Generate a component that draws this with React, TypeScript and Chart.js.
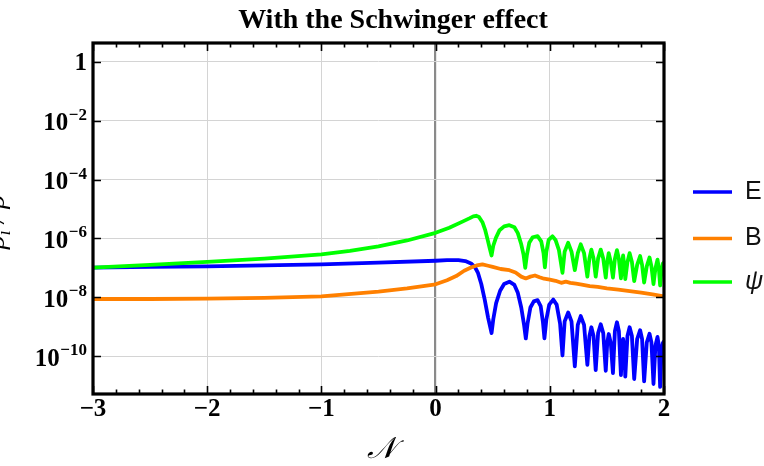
import React, { useEffect, useRef } from "react";
import { Chart, registerables } from "chart.js";

Chart.register(...registerables);

const TITLE = "With the Schwinger effect";
const X_LABEL = "\u{1D4A9}";
const X_TICKS = [-3, -2, -1, 0, 1, 2];
const Y_TICK_EXPONENTS = [0, -2, -4, -6, -8, -10];
const SERIES_NAMES = ["E", "B", "\u03C8"];
const SERIES_COLORS = ["#0000ff", "#ff8000", "#00ff00"];

// E (blue): e-folds N and log10(rho_E / rho)
const eN = [-3, -2.5, -2, -1.5, -1, -0.5, 0, 0.1, 0.2, 0.26, 0.31, 0.345, 0.37, 0.4, 0.43, 0.46, 0.49, 0.505, 0.53, 0.565, 0.6, 0.646, 0.69, 0.72, 0.75, 0.775, 0.79, 0.805, 0.83, 0.86, 0.893, 0.92, 0.94, 0.953, 0.97, 0.995, 1.03, 1.06, 1.09, 1.111, 1.13, 1.161, 1.19, 1.219, 1.245, 1.271, 1.3, 1.329, 1.347, 1.364, 1.383, 1.402, 1.423, 1.446, 1.468, 1.49, 1.503, 1.516, 1.534, 1.553, 1.57, 1.588, 1.605, 1.623, 1.632, 1.642, 1.651, 1.661, 1.68, 1.699, 1.719, 1.739, 1.765, 1.791, 1.808, 1.826, 1.849, 1.873, 1.89, 1.908, 1.925, 1.943, 1.955, 1.966, 1.978, 1.99, 2.0];
const eLog = [-6.99, -6.97, -6.95, -6.92, -6.88, -6.82, -6.76, -6.74, -6.74, -6.77, -6.85, -6.98, -7.16, -7.55, -8.08, -8.7, -9.22, -8.75, -8.2, -7.78, -7.55, -7.47, -7.58, -7.85, -8.35, -8.95, -9.4, -8.9, -8.35, -8.14, -8.1, -8.3, -8.85, -9.4, -8.75, -8.25, -8.08, -8.25, -8.9, -9.98, -8.82, -8.52, -8.82, -10.35, -8.94, -8.64, -8.94, -10.3, -9.32, -9.02, -9.32, -10.48, -9.22, -8.92, -9.22, -10.5, -9.55, -9.25, -9.55, -10.58, -9.15, -8.85, -9.15, -10.65, -9.72, -9.42, -9.72, -10.7, -9.32, -9.02, -9.32, -10.78, -9.42, -9.12, -9.42, -10.86, -9.54, -9.24, -9.54, -10.95, -9.65, -9.35, -9.65, -11.05, -9.85, -9.55, -9.5];

// B (orange)
const bN = [-3, -2.5, -2, -1.5, -1, -0.5, -0.25, 0, 0.1, 0.18, 0.25, 0.31, 0.36, 0.41, 0.46, 0.5, 0.57, 0.646, 0.7, 0.75, 0.79, 0.83, 0.87, 0.91, 0.95, 1.0, 1.05, 1.1, 1.14, 1.18, 1.23, 1.28, 1.35, 1.42, 1.5, 1.6, 1.7, 1.8, 1.9, 2.0];
const bLog = [-8.06, -8.06, -8.05, -8.02, -7.97, -7.81, -7.7, -7.56, -7.42, -7.28, -7.1, -6.99, -6.92, -6.88, -6.93, -6.97, -7.04, -7.08, -7.16, -7.3, -7.36, -7.3, -7.26, -7.32, -7.37, -7.4, -7.44, -7.51, -7.47, -7.51, -7.54, -7.57, -7.62, -7.65, -7.7, -7.74, -7.79, -7.84, -7.9, -7.97];

// psi (green)
const psiN = [-3, -2.5, -2, -1.5, -1, -0.75, -0.5, -0.25, 0, 0.12, 0.24, 0.3, 0.33, 0.355, 0.38, 0.41, 0.433, 0.456, 0.475, 0.49, 0.505, 0.528, 0.56, 0.6, 0.646, 0.69, 0.72, 0.75, 0.77, 0.785, 0.8, 0.82, 0.85, 0.893, 0.925, 0.945, 0.957, 0.97, 0.99, 1.023, 1.05, 1.08, 1.111, 1.13, 1.161, 1.19, 1.219, 1.245, 1.271, 1.3, 1.329, 1.347, 1.364, 1.383, 1.402, 1.423, 1.446, 1.468, 1.49, 1.503, 1.516, 1.534, 1.553, 1.57, 1.588, 1.605, 1.623, 1.632, 1.642, 1.651, 1.661, 1.68, 1.699, 1.719, 1.739, 1.765, 1.791, 1.808, 1.826, 1.849, 1.873, 1.89, 1.908, 1.925, 1.943, 1.955, 1.966, 1.978, 1.99, 2.0];
const psiLog = [-6.99, -6.9, -6.8, -6.69, -6.54, -6.42, -6.27, -6.07, -5.81, -5.64, -5.42, -5.31, -5.25, -5.23, -5.27, -5.45, -5.7, -6.05, -6.35, -6.58, -6.25, -5.98, -5.72, -5.59, -5.55, -5.62, -5.82, -6.2, -6.55, -7.0, -6.55, -6.15, -5.96, -5.92, -6.1, -6.5, -6.98, -6.45, -6.05, -5.93, -6.05, -6.4, -7.17, -6.45, -6.15, -6.45, -7.08, -6.5, -6.2, -6.5, -7.3, -6.68, -6.38, -6.68, -7.3, -6.68, -6.38, -6.68, -7.33, -6.8, -6.5, -6.8, -7.33, -6.7, -6.4, -6.7, -7.36, -6.88, -6.58, -6.88, -7.38, -6.8, -6.5, -6.8, -7.45, -6.9, -6.6, -6.9, -7.5, -6.95, -6.65, -6.95, -7.55, -7.02, -6.72, -7.02, -7.6, -7.1, -6.85, -6.82];

const SERIF = '"Liberation Serif", "Times New Roman", serif';
const SANS = '"Liberation Sans", Arial, sans-serif';

const toPoints = (ns: number[], logs: number[]) =>
  ns.map((n, i) => ({ x: n, y: Math.pow(10, logs[i]) }));

const expText = (e: number) => (e < 0 ? "\u2212" + String(-e) : String(e));

const decorPlugin = {
  id: "decor",
  afterDraw(chart: any) {
    const { ctx, chartArea } = chart;
    const { left, right, top, bottom } = chartArea;
    const xs = chart.scales.x;
    const ys = chart.scales.y;
    ctx.save();
    ctx.strokeStyle = "#000";
    ctx.fillStyle = "#000";
    // x ticks (major + minor) on top & bottom
    ctx.lineWidth = 1.6;
    for (let k = -15; k <= 10; k++) {
      const v = k / 5;
      const px = Math.round(xs.getPixelForValue(v)) + 0.5;
      const major = k % 5 === 0;
      const len = major ? 8 : 4.5;
      ctx.beginPath();
      ctx.moveTo(px, bottom);
      ctx.lineTo(px, bottom - len);
      ctx.moveTo(px, top);
      ctx.lineTo(px, top + len);
      ctx.stroke();
    }
    // y ticks left & right
    for (const e of Y_TICK_EXPONENTS) {
      const py = Math.round(ys.getPixelForValue(Math.pow(10, e))) + 0.5;
      ctx.beginPath();
      ctx.moveTo(left, py);
      ctx.lineTo(left + 8, py);
      ctx.moveTo(right, py);
      ctx.lineTo(right - 8, py);
      ctx.stroke();
    }
    // frame
    ctx.lineWidth = 3.2;
    ctx.strokeRect(left, top, right - left, bottom - top);

    // y tick labels with superscripts
    const rightEdge = left - 6;
    for (const e of Y_TICK_EXPONENTS) {
      const py = ys.getPixelForValue(Math.pow(10, e));
      ctx.textBaseline = "alphabetic";
      if (e === 0) {
        ctx.font = "bold 25px " + SERIF;
        ctx.textAlign = "right";
        ctx.fillText("1", rightEdge, py + 8.5);
      } else {
        ctx.font = "bold 17px " + SERIF;
        const sup = expText(e);
        const ws = ctx.measureText(sup).width;
        ctx.textAlign = "right";
        ctx.fillText(sup, rightEdge, py - 1);
        ctx.font = "bold 25px " + SERIF;
        ctx.fillText("10", rightEdge - ws - 0.5, py + 9.5);
      }
    }

    // title
    ctx.font = "bold 28px " + SERIF;
    ctx.textAlign = "center";
    ctx.textBaseline = "alphabetic";
    ctx.fillText(TITLE, 393, 28);

    // x axis title
    ctx.font = "italic 30px " + SERIF;
    ctx.fillText(X_LABEL, 381, 458);

    // y axis title (rotated, partly off canvas)
    ctx.save();
    ctx.translate(4, 222);
    ctx.rotate(-Math.PI / 2);
    ctx.font = "italic 28px " + SERIF;
    const p1 = "\u03C1";
    const sub = "i";
    const p2 = " / \u03C1";
    const w1 = ctx.measureText(p1).width;
    const w3 = ctx.measureText(p2).width;
    ctx.font = "italic 19px " + SERIF;
    const w2 = ctx.measureText(sub).width;
    const total = w1 + w2 + w3;
    let cx = -total / 2;
    ctx.textAlign = "left";
    ctx.font = "italic 28px " + SERIF;
    ctx.fillText(p1, cx, 0);
    cx += w1;
    ctx.font = "italic 19px " + SERIF;
    ctx.fillText(sub, cx, 6);
    cx += w2;
    ctx.font = "italic 28px " + SERIF;
    ctx.fillText(p2, cx, 0);
    ctx.restore();

    // legend
    const legendY = [192, 238.5, 282];
    for (let i = 0; i < SERIES_NAMES.length; i++) {
      const ly = legendY[i];
      ctx.strokeStyle = SERIES_COLORS[i];
      ctx.lineWidth = 3.5;
      ctx.beginPath();
      ctx.moveTo(693, ly);
      ctx.lineTo(732, ly);
      ctx.stroke();
      ctx.fillStyle = "#111";
      ctx.font = (i === 2 ? "italic " : "") + "25px " + SANS;
      ctx.textAlign = "left";
      ctx.textBaseline = "middle";
      ctx.fillText(SERIES_NAMES[i], 745, ly);
    }
    ctx.restore();
  },
};

export default function App() {
  const ref = useRef<HTMLCanvasElement>(null);
  useEffect(() => {
    document.body.style.margin = "0";
    const canvas = ref.current!;
    const ds = (i: number, ns: number[], logs: number[], order: number) => ({
      label: SERIES_NAMES[i],
      data: toPoints(ns, logs),
      borderColor: SERIES_COLORS[i],
      backgroundColor: SERIES_COLORS[i],
      borderWidth: 3.8,
      pointRadius: 0,
      tension: 0,
      borderJoinStyle: "round" as const,
      borderCapStyle: "round" as const,
      fill: false,
      order,
    });
    const chart = new Chart(canvas, {
      type: "line",
      data: {
        datasets: [
          ds(0, eN, eLog, 3),
          ds(1, bN, bLog, 2),
          ds(2, psiN, psiLog, 1),
        ],
      },
      options: {
        animation: false,
        responsive: false,
        devicePixelRatio: 1,
        layout: { padding: { top: 43, right: 100, left: 0, bottom: 0 } },
        plugins: {
          legend: { display: false },
          tooltip: { enabled: false },
          title: { display: false },
        },
        scales: {
          x: {
            type: "linear",
            min: -3,
            max: 2,
            afterFit: (s: any) => {
              s.height = 72;
            },
            afterBuildTicks: (s: any) => {
              s.ticks = X_TICKS.map((v) => ({ value: v }));
            },
            ticks: {
              autoSkip: false,
              maxRotation: 0,
              padding: 1,
              color: "#000",
              font: { family: SERIF, size: 25, weight: "bold" },
              callback: (v: any) => (Number(v) < 0 ? "\u2212" + String(-Number(v)) : String(v)),
            },
            grid: {
              drawTicks: false,
              color: (c: any) => (c.tick && c.tick.value === 0 ? "#8a8a8a" : "#d4d4d4"),
              lineWidth: (c: any) => (c.tick && c.tick.value === 0 ? 2.2 : 1),
            },
            border: { display: false },
          },
          y: {
            type: "logarithmic",
            min: Math.pow(10, -11.29),
            max: Math.pow(10, 0.644),
            afterFit: (s: any) => {
              s.width = 93;
            },
            afterBuildTicks: (s: any) => {
              s.ticks = Y_TICK_EXPONENTS.map((e) => ({ value: Math.pow(10, e) }));
            },
            ticks: { display: false },
            grid: { drawTicks: false, color: "#d4d4d4", lineWidth: 1 },
            border: { display: false },
          },
        },
      },
      plugins: [decorPlugin],
    });
    return () => chart.destroy();
  }, []);
  return (
    <div style={{ width: 764, height: 466, position: "relative", background: "#fff" }}>
      <canvas ref={ref} width={764} height={466} style={{ width: 764, height: 466, display: "block" }} />
    </div>
  );
}
